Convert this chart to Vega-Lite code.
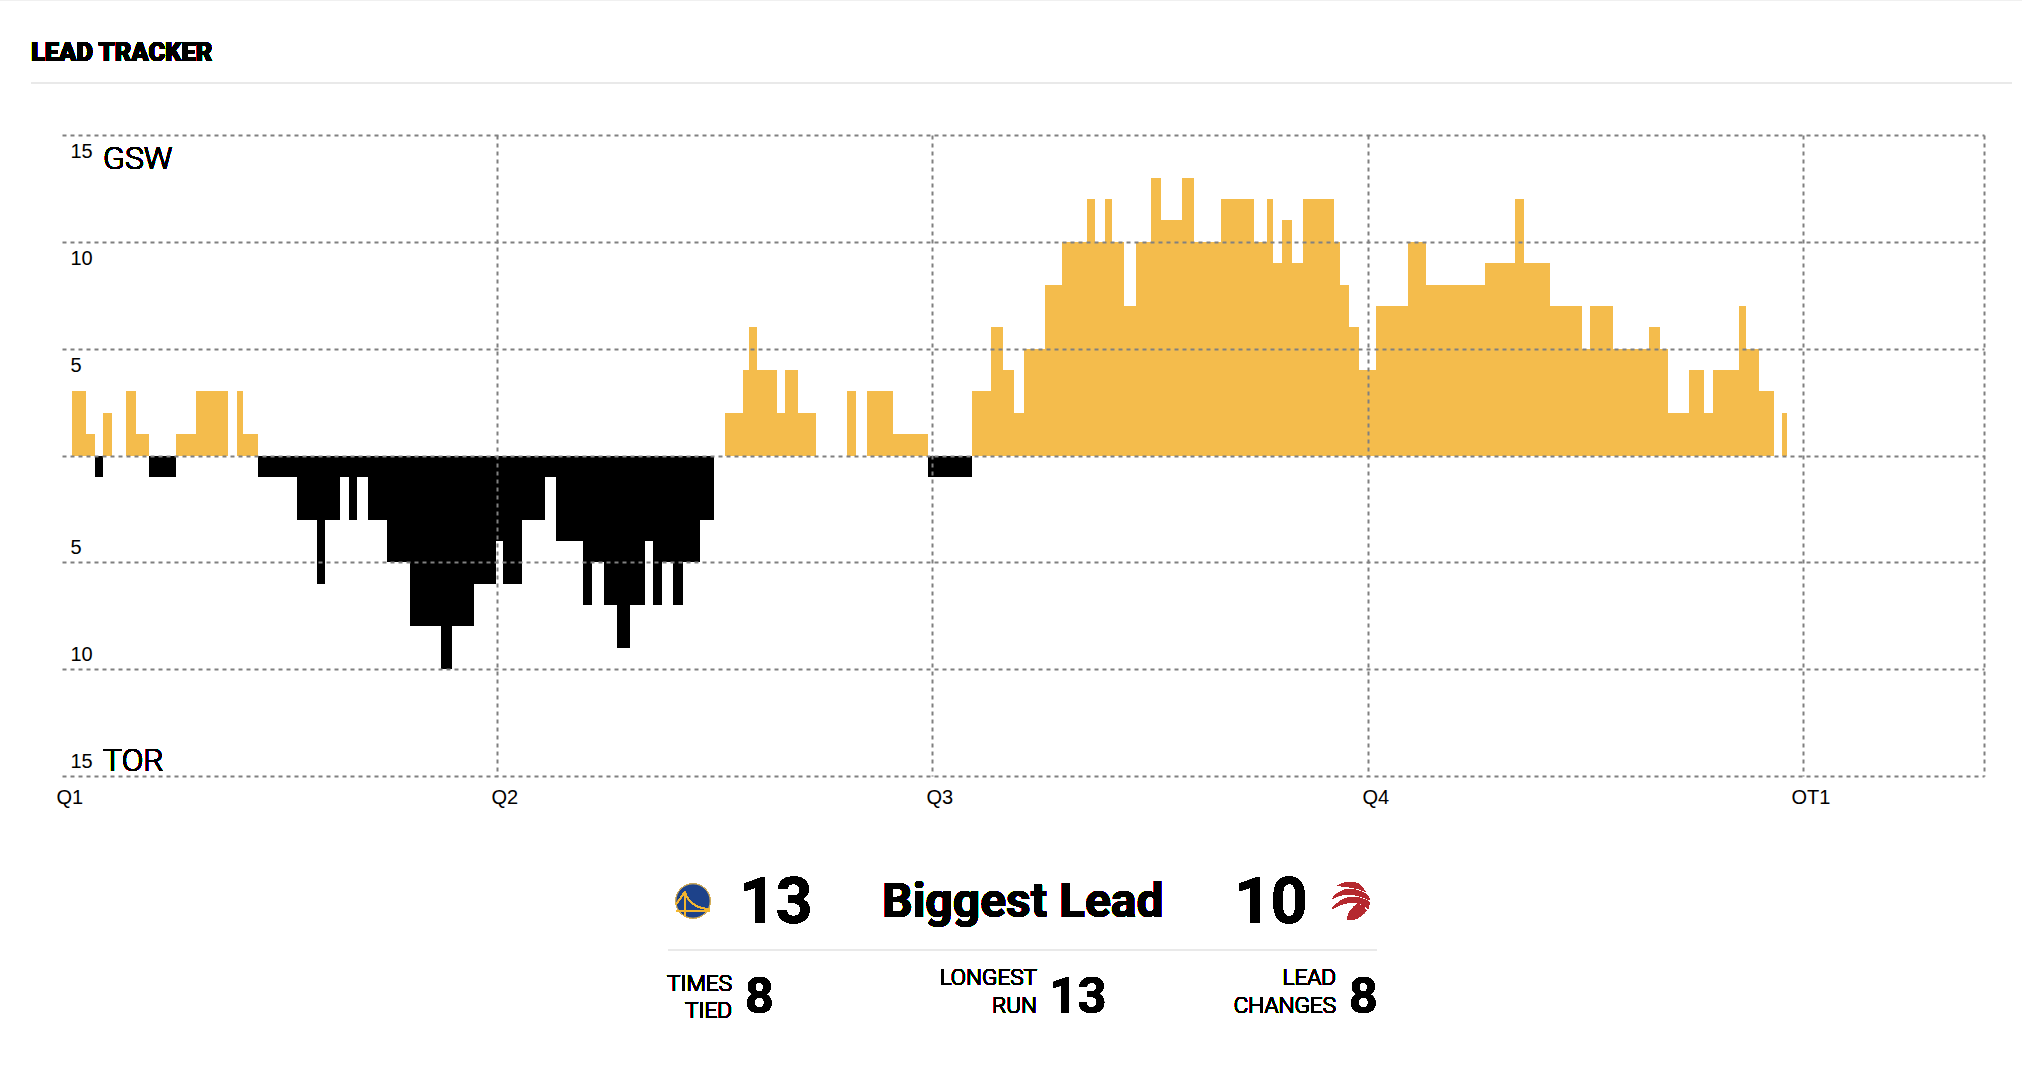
{
"$schema":"https://vega.github.io/schema/vega-lite/v6.json",
"width":1922,"height":641,
"autosize":{"type":"none"},
"padding":{"left":62,"top":135,"right":38,"bottom":298},
"background":"white",
"config":{"view":{"stroke":null},"font":"Liberation Sans"},
"data":{"values":[
{"start":17,"end":39,"lead":3},{"start":39,"end":55,"lead":1},{"start":55,"end":68,"lead":-1},{"start":68,"end":83,"lead":2},{"start":106,"end":123,"lead":3},{"start":123,"end":144,"lead":1},{"start":144,"end":189,"lead":-1},{"start":189,"end":222,"lead":1},{"start":222,"end":275,"lead":3},{"start":290,"end":299,"lead":3},{"start":299,"end":325,"lead":1},{"start":325,"end":389,"lead":-1},{"start":389,"end":422,"lead":-3},{"start":422,"end":435,"lead":-6},{"start":435,"end":460,"lead":-3},{"start":460,"end":475,"lead":-1},{"start":475,"end":488,"lead":-3},{"start":488,"end":506,"lead":-1},{"start":506,"end":538,"lead":-3},{"start":538,"end":576,"lead":-5},{"start":576,"end":627,"lead":-8},{"start":627,"end":646,"lead":-10},{"start":646,"end":682,"lead":-8},{"start":682,"end":718,"lead":-6},{"start":718,"end":730,"lead":-4},{"start":730,"end":761,"lead":-6},{"start":761,"end":799,"lead":-3},{"start":799,"end":818,"lead":-1},{"start":818,"end":862,"lead":-4},{"start":862,"end":877,"lead":-7},{"start":877,"end":897,"lead":-5},{"start":897,"end":919,"lead":-7},{"start":919,"end":939,"lead":-9},{"start":939,"end":965,"lead":-7},{"start":965,"end":978,"lead":-4},{"start":978,"end":992,"lead":-7},{"start":992,"end":1011,"lead":-5},{"start":1011,"end":1028,"lead":-7},{"start":1028,"end":1056,"lead":-5},{"start":1056,"end":1079,"lead":-3},{"start":1097,"end":1126,"lead":2},{"start":1126,"end":1136,"lead":4},{"start":1136,"end":1150,"lead":6},{"start":1150,"end":1183,"lead":4},{"start":1183,"end":1197,"lead":2},{"start":1197,"end":1218,"lead":4},{"start":1218,"end":1248,"lead":2},{"start":1299,"end":1314,"lead":3},{"start":1332,"end":1375,"lead":3},{"start":1375,"end":1433,"lead":1},{"start":1433,"end":1506,"lead":-1},{"start":1506,"end":1537,"lead":3},{"start":1537,"end":1557,"lead":6},{"start":1557,"end":1575,"lead":4},{"start":1575,"end":1592,"lead":2},{"start":1592,"end":1627,"lead":5},{"start":1627,"end":1655,"lead":8},{"start":1655,"end":1696,"lead":10},{"start":1696,"end":1709,"lead":12},{"start":1709,"end":1726,"lead":10},{"start":1726,"end":1738,"lead":12},{"start":1738,"end":1757,"lead":10},{"start":1757,"end":1777,"lead":7},{"start":1777,"end":1802,"lead":10},{"start":1802,"end":1819,"lead":13},{"start":1819,"end":1853,"lead":11},{"start":1853,"end":1873,"lead":13},{"start":1873,"end":1918,"lead":10},{"start":1918,"end":1973,"lead":12},{"start":1973,"end":1994,"lead":10},{"start":1994,"end":2004,"lead":12},{"start":2004,"end":2019,"lead":9},{"start":2019,"end":2035,"lead":11},{"start":2035,"end":2054,"lead":9},{"start":2054,"end":2105,"lead":12},{"start":2105,"end":2115,"lead":10},{"start":2115,"end":2130,"lead":8},{"start":2130,"end":2146,"lead":6},{"start":2146,"end":2174,"lead":4},{"start":2174,"end":2227,"lead":7},{"start":2227,"end":2257,"lead":10},{"start":2257,"end":2354,"lead":8},{"start":2354,"end":2404,"lead":9},{"start":2404,"end":2419,"lead":12},{"start":2419,"end":2462,"lead":9},{"start":2462,"end":2515,"lead":7},{"start":2515,"end":2528,"lead":5},{"start":2528,"end":2566,"lead":7},{"start":2566,"end":2626,"lead":5},{"start":2626,"end":2644,"lead":6},{"start":2644,"end":2657,"lead":5},{"start":2657,"end":2692,"lead":2},{"start":2692,"end":2717,"lead":4},{"start":2717,"end":2732,"lead":2},{"start":2732,"end":2775,"lead":4},{"start":2775,"end":2787,"lead":7},{"start":2787,"end":2808,"lead":5},{"start":2808,"end":2833,"lead":3},{"start":2846,"end":2854,"lead":2}
]},
"layer":[
{"mark":{"type":"rect"},
 "encoding":{
  "x":{"field":"start","type":"quantitative","scale":{"domain":[0,3180],"nice":false,"zero":false,"round":true},
   "axis":{"orient":"bottom","values":[0,720,1440,2160,2880,3180],"title":null,"domain":false,"ticks":false,
    "grid":true,"gridColor":"#808080","gridDash":[4,4],"gridWidth":2,"gridOpacity":{"condition":{"test":"datum.value==0","value":0},"value":1},"zindex":1,
    "labelExpr":"datum.value==0?'Q1':datum.value==720?'Q2':datum.value==1440?'Q3':datum.value==2160?'Q4':datum.value==2880?'OT1':''",
    "labelFont":"Liberation Sans","labelFontSize":20,"labelColor":"#000","labelAlign":"left","labelPadding":11,
    "labelOffset":{"condition":{"test":"datum.value==2880","value":-12},"value":-6},"labelFlush":false,"labelOverlap":false}},
  "x2":{"field":"end"},
  "y":{"field":"lead","type":"quantitative","scale":{"domain":[-15,15],"nice":false,"zero":false,"round":true},
   "axis":{"orient":"left","values":[-15,-10,-5,0,5,10,15],"title":null,"domain":false,"ticks":false,
    "grid":true,"gridColor":"#808080","gridDash":[4,4],"gridWidth":2,"zindex":1,
    "labelExpr":"datum.value==0?'':''+abs(datum.value)",
    "labelFont":"Liberation Sans","labelFontSize":20,"labelColor":"#000","labelAlign":"left","labelPadding":-8,
    "labelOffset":{"condition":{"test":"datum.value>0","value":16},"value":-15},"labelFlush":false,"labelOverlap":false}},
  "y2":{"datum":0},
  "color":{"condition":{"test":"datum.lead>0","value":"#f4bc4c"},"value":"#000000"}
 }},
{"mark":{"type":"text","font":"Roboto","fontWeight":300,"fontSize":32,"align":"left","baseline":"alphabetic","color":"#000"},
 "encoding":{"x":{"datum":68},"y":{"datum":13.42},"text":{"value":"GSW"}}},
{"mark":{"type":"text","font":"Roboto","fontWeight":300,"fontSize":32,"align":"left","baseline":"alphabetic","color":"#000"},
 "encoding":{"x":{"datum":68},"y":{"datum":-14.77},"text":{"value":"TOR"}}},
{"mark":{"type":"text","font":"Roboto","fontWeight":900,"fontSize":25.5,"align":"left","baseline":"alphabetic","color":"#000"},
 "encoding":{"x":{"datum":-52},"y":{"datum":18.45},"text":{"value":"LEAD TRACKER"}}},
{"mark":{"type":"rule","color":"#e8e8e8","strokeWidth":1.5},
 "encoding":{"x":{"datum":-52},"x2":{"datum":3226},"y":{"datum":17.42}}},
{"mark":{"type":"rule","color":"#f0f0f0","strokeWidth":2},
 "encoding":{"x":{"datum":-102},"x2":{"datum":3244},"y":{"datum":21.3}}},
{"mark":{"type":"rule","color":"#e8e8e8","strokeWidth":1.5},
 "encoding":{"x":{"datum":1003},"x2":{"datum":2175},"y":{"datum":-23.14}}},
{"mark":{"type":"point","filled":true,"color":"#1d428a","stroke":"#d9b25a","strokeWidth":1,"opacity":1,"size":1176,"shape":"circle"},
 "encoding":{"x":{"datum":1044},"y":{"datum":-20.85}}},
{"mark":{"type":"point","filled":false,"stroke":"#f2b632","strokeWidth":1.1,"size":1444,"opacity":1,"shape":"M-0.44,-0.47 L-0.44,0.84 M-0.85,0.52 L0.85,0.52 M-0.44,-0.47 Q-0.1,0.4 0.85,0.42 M-0.44,-0.47 L-0.9,0.2"},
 "encoding":{"x":{"datum":1044},"y":{"datum":-20.85}}},
{"mark":{"type":"point","filled":true,"color":"#b5292f","strokeWidth":0,"opacity":1,"size":1444,"shape":"M-.71,-.8 Q-.1,-1.15 .41,-.9 Q.6,-.75 .75,-.5 Q.2,-.75 -.71,-.8 Z M-1,-.1 Q-.65,-.6 -.1,-.62 Q.5,-.6 .88,-.3 L.98,-.05 Q.3,-.4 -.3,-.35 Q-.7,-.3 -1,-.1 Z M-1,.42 Q-.6,-.1 -.1,-.2 Q.5,-.25 .99,.08 L.9,.4 Q.4,0 -.1,.08 Q-.6,.15 -1,.42 Z M-.2,.95 Q-.1,.45 .3,.18 Q.6,.15 .8,.5 Q.6,.8 .15,.98 Q0,1 -.2,.95 Z"},
 "encoding":{"x":{"datum":2133},"y":{"datum":-20.85}}},
{"mark":{"type":"text","font":"Roboto","fontWeight":700,"fontSize":64,"align":"left","baseline":"alphabetic","color":"#000"},
 "encoding":{"x":{"datum":1120},"y":{"datum":-21.87},"text":{"value":"13"}}},
{"mark":{"type":"text","font":"Roboto","fontWeight":700,"fontSize":64,"align":"left","baseline":"alphabetic","color":"#000"},
 "encoding":{"x":{"datum":1939},"y":{"datum":-21.87},"text":{"value":"10"}}},
{"mark":{"type":"text","font":"Roboto","fontWeight":700,"fontSize":48,"align":"left","baseline":"alphabetic","color":"#000"},
 "encoding":{"x":{"datum":1356},"y":{"datum":-21.59},"text":{"value":"Biggest Lead"}}},
{"mark":{"type":"text","font":"Roboto","fontWeight":300,"fontSize":22.5,"align":"right","baseline":"alphabetic","color":"#000"},
 "encoding":{"x":{"datum":1109},"y":{"datum":-25.05},"text":{"value":"TIMES"}}},
{"mark":{"type":"text","font":"Roboto","fontWeight":300,"fontSize":22.5,"align":"right","baseline":"alphabetic","color":"#000"},
 "encoding":{"x":{"datum":1109},"y":{"datum":-26.33},"text":{"value":"TIED"}}},
{"mark":{"type":"text","font":"Roboto","fontWeight":300,"fontSize":22.5,"align":"right","baseline":"alphabetic","color":"#000"},
 "encoding":{"x":{"datum":1613},"y":{"datum":-24.8},"text":{"value":"LONGEST"}}},
{"mark":{"type":"text","font":"Roboto","fontWeight":300,"fontSize":22.5,"align":"right","baseline":"alphabetic","color":"#000"},
 "encoding":{"x":{"datum":1613},"y":{"datum":-26.08},"text":{"value":"RUN"}}},
{"mark":{"type":"text","font":"Roboto","fontWeight":300,"fontSize":22.5,"align":"right","baseline":"alphabetic","color":"#000"},
 "encoding":{"x":{"datum":2108},"y":{"datum":-24.8},"text":{"value":"LEAD"}}},
{"mark":{"type":"text","font":"Roboto","fontWeight":300,"fontSize":22.5,"align":"right","baseline":"alphabetic","color":"#000"},
 "encoding":{"x":{"datum":2108},"y":{"datum":-26.08},"text":{"value":"CHANGES"}}},
{"mark":{"type":"text","font":"Roboto","fontWeight":700,"fontSize":50,"align":"left","baseline":"alphabetic","color":"#000"},
 "encoding":{"x":{"datum":1130},"y":{"datum":-26.08},"text":{"value":"8"}}},
{"mark":{"type":"text","font":"Roboto","fontWeight":700,"fontSize":50,"align":"left","baseline":"alphabetic","color":"#000"},
 "encoding":{"x":{"datum":1633},"y":{"datum":-26.08},"text":{"value":"13"}}},
{"mark":{"type":"text","font":"Roboto","fontWeight":700,"fontSize":50,"align":"left","baseline":"alphabetic","color":"#000"},
 "encoding":{"x":{"datum":2129},"y":{"datum":-26.08},"text":{"value":"8"}}}
]
}
